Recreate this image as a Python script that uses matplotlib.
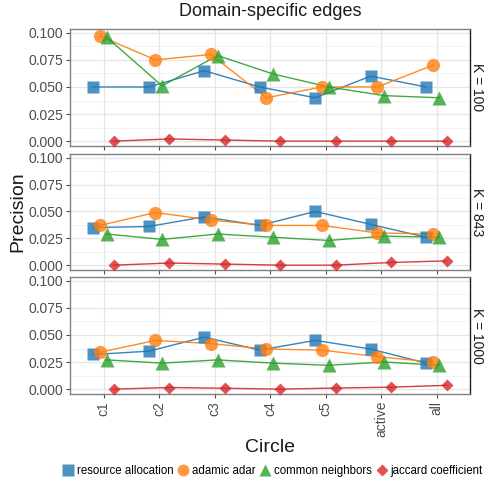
import matplotlib
matplotlib.use("Agg")
import matplotlib.pyplot as plt
import numpy as np
from matplotlib.lines import Line2D

plt.rcParams['font.family'] = ['Liberation Sans', 'DejaVu Sans']

circles = ["c1", "c2", "c3", "c4", "c5", "active", "all"]
panels = ["K = 100", "K = 843", "K = 1000"]
methods = ["resource allocation", "adamic adar", "common neighbors", "jaccard coefficient"]

ra = [[0.050, 0.050, 0.065, 0.050, 0.040, 0.060, 0.050],
      [0.035, 0.036, 0.045, 0.037, 0.050, 0.038, 0.026],
      [0.032, 0.035, 0.048, 0.036, 0.045, 0.037, 0.024]]
aa = [[0.097, 0.075, 0.080, 0.040, 0.050, 0.050, 0.070],
      [0.037, 0.049, 0.042, 0.037, 0.037, 0.030, 0.029],
      [0.034, 0.045, 0.042, 0.037, 0.036, 0.030, 0.025]]
cn = [[0.096, 0.051, 0.079, 0.062, 0.050, 0.042, 0.040],
      [0.029, 0.024, 0.029, 0.026, 0.023, 0.027, 0.026],
      [0.027, 0.024, 0.027, 0.024, 0.022, 0.025, 0.022]]
jc = [[0.000, 0.002, 0.001, 0.000, 0.000, 0.000, 0.000],
      [0.000, 0.002, 0.001, 0.000, 0.000, 0.0025, 0.004],
      [0.000, 0.0015, 0.0008, 0.000, 0.001, 0.0018, 0.0035]]
series = [ra, aa, cn, jc]

colors = ["#1f77b4", "#ff7f0e", "#2ca02c", "#d62728"]
markers = ["s", "o", "^", "D"]
msizes = [9, 9.5, 10, 6.5]
offsets = [-0.19, -0.07, 0.05, 0.18]

W, H = 484, 482
fig = plt.figure(figsize=(W / 100, H / 100), dpi=100)

left, right = 70 / W, 470 / W
tops = [29, 154, 277]
bots = [146, 270, 394]
tickc = "#4d4d4d"
axes = []
x = np.arange(len(circles))
for p in range(3):
    ax = fig.add_axes([left, 1 - bots[p] / H, right - left, (bots[p] - tops[p]) / H])
    axes.append(ax)
    ax.set_xlim(-0.61, 6.6)
    ax.set_ylim(-0.0045, 0.1035)
    ax.set_yticks([0, 0.025, 0.05, 0.075, 0.1])
    ax.set_yticklabels(["0.000", "0.025", "0.050", "0.075", "0.100"])
    ax.set_yticks([0.0125, 0.0375, 0.0625, 0.0875], minor=True)
    ax.set_xticks(x)
    ax.grid(True, which="major", color="#e6e6e6", lw=0.9, zorder=0)
    ax.grid(True, which="minor", axis="y", color="#f0f0f0", lw=0.6, zorder=0)
    ax.set_axisbelow(True)
    ax.tick_params(axis="y", which="major", labelsize=10, colors=tickc, length=3, width=0.8, pad=2)
    ax.tick_params(axis="y", which="minor", length=0)
    ax.tick_params(axis="x", length=3, width=0.8, colors=tickc, labelsize=10, pad=2)
    for s in ["left", "bottom", "top"]:
        ax.spines[s].set_color("#808080")
        ax.spines[s].set_linewidth(1.0)
    ax.spines["right"].set_color("#222222")
    ax.spines["right"].set_linewidth(1.0)
    for i, data in enumerate(series):
        xs = x + offsets[i]
        ax.plot(xs, data[p], color=colors[i], lw=1.0, alpha=0.9, zorder=2)
        ax.plot(xs, data[p], ls="none", marker=markers[i], ms=msizes[i],
                color=colors[i], alpha=0.8, mec="none", zorder=3, clip_on=False)
    if p < 2:
        ax.set_xticklabels([])
    else:
        ax.set_xticklabels(circles, rotation=90)
    ax.text(1.017, 0.5, panels[p], transform=ax.transAxes, rotation=-90,
            ha="center", va="center", fontsize=10, color="#1a1a1a")

fig.text(270 / W, 1 - 12 / H, "Domain-specific edges", ha="center", va="center",
         fontsize=13, color="#1a1a1a")
fig.text(18 / W, 1 - 212 / H, "Precision", rotation=90, ha="center", va="center",
         fontsize=14, color="#1a1a1a")
fig.text(270 / W, 1 - 447 / H, "Circle", ha="center", va="center",
         fontsize=14, color="#1a1a1a")

handles = [Line2D([], [], ls="none", marker=markers[i], ms=msizes[i] * 0.9,
                  color=colors[i], alpha=0.8, mec="none") for i in range(4)]
fig.legend(handles, methods, loc="center", bbox_to_anchor=(272 / W, 1 - 471 / H),
           ncol=4, frameon=False, fontsize=8.3, handletextpad=0.15,
           columnspacing=0.25, handlelength=1.2, borderpad=0)

fig.savefig("out.png", dpi=100)
